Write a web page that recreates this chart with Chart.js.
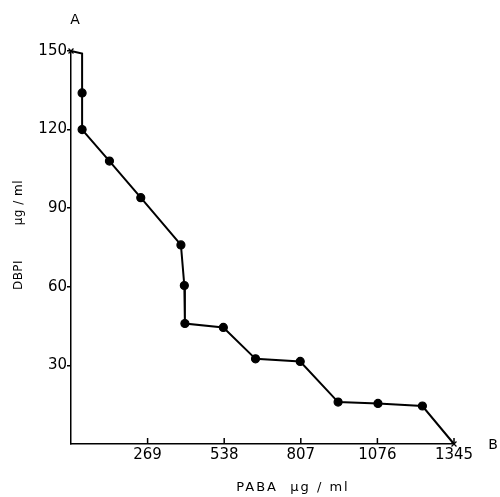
<!DOCTYPE html>
<html>
<head>
<meta charset="utf-8">
<script src="https://cdn.jsdelivr.net/npm/chart.js@4.4.1/dist/chart.umd.min.js"></script>
<style>
  html, body { margin: 0; padding: 0; background: #fff; }
  #wrap { width: 500px; height: 497px; position: relative; }
</style>
</head>
<body>
<div id="wrap"><canvas id="chart"></canvas></div>
<script>
// PABA (x) vs DBPI (y) values
const pabaValues = [0, 39, 39, 39, 135, 245, 386, 398, 400, 535, 648, 805, 938, 1078, 1234, 1345];
const dbpiValues = [150, 149, 134, 120, 108, 94, 76, 60.5, 46, 44.5, 32.5, 31.5, 16, 15.5, 14.5, 0];
const xTickValues = [269, 538, 807, 1076, 1345];
const yTickValues = [30, 60, 90, 120, 150];

const FONT = 'DejaVu Sans';

// radius / style per point: crosses at the ends, no marker on the little corner
const radii = pabaValues.map((v, i) => (i === 1 ? 0 : (i === 0 || i === pabaValues.length - 1 ? 3.5 : 4)));
const styles = pabaValues.map((v, i) => (i === 0 || i === pabaValues.length - 1 ? 'crossRot' : 'circle'));

/* x tick marks pointing up into the plot, axis titles and the A / B letters */
const extras = {
  id: 'extras',
  afterDraw(chart) {
    const ctx = chart.ctx;
    const x = chart.scales.x, y = chart.scales.y;
    ctx.save();
    ctx.strokeStyle = '#000';
    ctx.lineWidth = 1.5;
    xTickValues.forEach(v => {
      const px = x.getPixelForValue(v);
      ctx.beginPath();
      ctx.moveTo(px, y.bottom);
      ctx.lineTo(px, y.bottom - 6);
      ctx.stroke();
    });
    ctx.fillStyle = '#000';
    ctx.textAlign = 'center';
    ctx.textBaseline = 'middle';
    ctx.font = '14px ' + FONT;
    ctx.fillText('A', x.left + 4, 20);
    ctx.fillText('B', 493, y.bottom + 1);

    // x axis title
    ctx.letterSpacing = '2px';
    ctx.font = '13px ' + FONT;
    ctx.fillText('PABA  µg / ml', 293, 488);

    // y axis title, rotated
    ctx.letterSpacing = '0.5px';
    ctx.font = '12px ' + FONT;
    ctx.translate(19, 235);
    ctx.rotate(-Math.PI / 2);
    ctx.fillText('DBPI        µg / ml', 0, 0);
    ctx.restore();
  }
};

new Chart(document.getElementById('chart'), {
  type: 'scatter',
  data: {
    datasets: [{
      data: pabaValues.map((v, i) => ({ x: v, y: dbpiValues[i] })),
      showLine: true,
      clip: false,
      borderColor: '#000',
      borderWidth: 2,
      backgroundColor: '#000',
      pointRadius: radii,
      pointStyle: styles,
      pointBorderWidth: 1.2,
      tension: 0
    }]
  },
  options: {
    responsive: true,
    maintainAspectRatio: false,
    animation: false,
    layout: { padding: { left: 0, top: 51, right: 46, bottom: 0 } },
    plugins: { legend: { display: false }, tooltip: { enabled: false } },
    scales: {
      x: {
        type: 'linear',
        min: 0,
        max: 1345,
        afterBuildTicks: s => { s.ticks = [0].concat(xTickValues).map(v => ({ value: v })); },
        afterFit: s => { s.height = 53; },
        ticks: {
          color: '#000',
          font: { family: FONT, size: 15 },
          padding: 2,
          maxRotation: 0,
          callback: v => (v === 0 ? '' : v)
        },
        grid: { display: false, drawTicks: false },
        border: { display: true, color: '#000', width: 1.5 }
      },
      y: {
        type: 'linear',
        min: 0,
        max: 150,
        afterBuildTicks: s => { s.ticks = [0].concat(yTickValues).map(v => ({ value: v })); },
        afterFit: s => { s.width = 71; },
        ticks: {
          color: '#000',
          font: { family: FONT, size: 15 },
          padding: 0,
          callback: v => (v === 0 ? '' : v)
        },
        grid: {
          display: true,
          drawOnChartArea: false,
          drawTicks: true,
          tickLength: 4,
          color: c => (c.tick && c.tick.value === 0 ? 'rgba(0,0,0,0)' : '#000'),
          lineWidth: 1.5
        },
        border: { display: true, color: '#000', width: 1.5 }
      }
    }
  },
  plugins: [extras]
});
</script>
</body>
</html>
